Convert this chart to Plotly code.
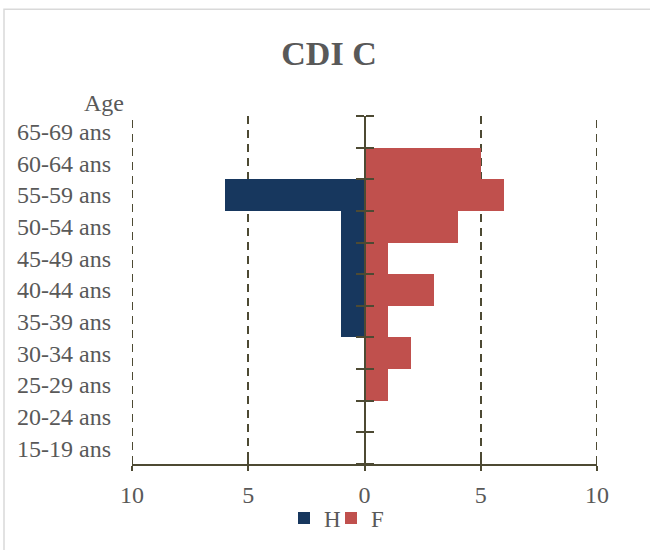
import plotly.graph_objects as go

categories = ["15-19 ans", "20-24 ans", "25-29 ans", "30-34 ans", "35-39 ans",
              "40-44 ans", "45-49 ans", "50-54 ans", "55-59 ans", "60-64 ans", "65-69 ans"]
hommes = [0, 0, 0, 0, 1, 1, 1, 1, 6, 0, 0]
femmes = [0, 0, 1, 2, 1, 3, 1, 4, 6, 5, 0]
x_tickvals = [-10, -5, 0, 5, 10]
x_ticktext = ["10", "5", "0", "5", "10"]
edge_grid = [-10, 10]
title_text = "CDI C"
axis_title = "Age"

FONT = "Liberation Serif"
TXT = "#595959"
AX = "#4d4a33"
H_COL = "#17375E"
F_COL = "#C0504D"
DASH = "8px,6px"

n = len(categories)
pos = list(range(n))
bounds = [i - 0.5 for i in range(n + 1)]

fig = go.Figure()
fig.add_trace(go.Bar(y=pos, x=[-v for v in hommes], orientation="h", name="H",
                     marker=dict(color=H_COL, line=dict(width=0)), hoverinfo="skip",
                     legend="legend"))
fig.add_trace(go.Bar(y=pos, x=femmes, orientation="h", name="F",
                     marker=dict(color=F_COL, line=dict(width=0)), hoverinfo="skip",
                     legend="legend2"))
# helper traces so the overlay axes are drawn
fig.add_trace(go.Scatter(x=[None], y=[None], xaxis="x2", yaxis="y2", showlegend=False,
                         hoverinfo="skip"))
fig.add_trace(go.Scatter(x=[None], y=[None], xaxis="x2", yaxis="y3", showlegend=False,
                         hoverinfo="skip"))

shapes = [dict(type="rect", xref="paper", yref="paper",
               x0=(4 - 132) / 465, x1=(660 - 132) / 465,
               y0=(465 - 560) / 349, y1=(465 - 9) / 349,
               line=dict(color="#d9d9d9", width=1.5), layer="below")]
for gx in edge_grid:
    shapes.append(dict(type="line", xref="x", yref="paper", x0=gx, x1=gx, y0=0, y1=1,
                       line=dict(color=AX, width=2, dash=DASH), layer="below"))

leg_common = dict(orientation="h", xanchor="left", y=(465 - 518) / 349, yanchor="middle",
                  bgcolor="rgba(0,0,0,0)", font=dict(size=23, color=TXT), itemwidth=30)

fig.update_layout(
    width=650, height=550,
    margin=dict(l=132, r=53, t=116, b=85),
    paper_bgcolor="white", plot_bgcolor="white",
    barmode="relative", bargap=0,
    font=dict(family=FONT, color=TXT, size=24),
    title=dict(text="<b>" + title_text + "</b>", x=(329 - 132) / 465, xref="paper",
               xanchor="center", y=1 - 53 / 550, yanchor="middle",
               font=dict(size=34, color=TXT, family=FONT)),
    xaxis=dict(range=[-10, 10], tickvals=x_tickvals, ticktext=x_ticktext,
               showgrid=True, gridcolor=AX, griddash=DASH, gridwidth=2,
               zeroline=False, showline=True, linecolor=AX, linewidth=2,
               ticks="outside", ticklen=5, tickcolor=AX, tickwidth=2,
               ticklabelstandoff=3, tickfont=dict(size=24, color=TXT)),
    xaxis2=dict(range=[-10, 10], overlaying="x", anchor="y2", tickvals=x_tickvals,
                showticklabels=False, showgrid=False, zeroline=False, showline=False,
                ticks="inside", ticklen=5, tickcolor=AX, tickwidth=2),
    yaxis=dict(range=[-0.5, n - 0.5], tickvals=pos, ticktext=categories,
               showgrid=False, zeroline=False, showline=False, ticks="",
               ticklabelstandoff=20, tickfont=dict(size=24, color=TXT)),
    yaxis2=dict(range=[-0.5, n - 0.5], overlaying="y", anchor="free", position=0.5,
                tickvals=bounds, showticklabels=False, showgrid=False, zeroline=False,
                showline=True, linecolor=AX, linewidth=2,
                ticks="outside", ticklen=8, tickcolor=AX, tickwidth=2),
    yaxis3=dict(range=[-0.5, n - 0.5], overlaying="y", anchor="free", position=0.5,
                side="right", tickvals=bounds, showticklabels=False, showgrid=False,
                zeroline=False, showline=False,
                ticks="outside", ticklen=8, tickcolor=AX, tickwidth=2),
    legend=dict(x=(284 - 132) / 465, **leg_common),
    legend2=dict(x=(331 - 132) / 465, **leg_common),
    annotations=[dict(text=axis_title, xref="paper", yref="paper",
                      x=(126 - 132) / 465, y=(465 - 103) / 349, xanchor="right",
                      yanchor="middle", showarrow=False,
                      font=dict(size=24, color=TXT, family=FONT))],
    shapes=shapes,
    hovermode=False,
)

fig.write_html("out.html")
